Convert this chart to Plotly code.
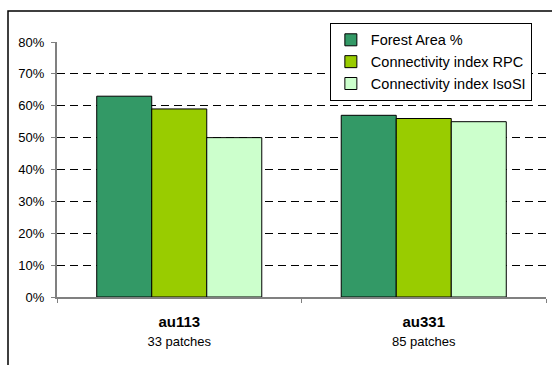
import plotly.graph_objects as go

categories = ["au113", "au331"]
sublabels = ["33 patches", "85 patches"]
forest_area = [0.63, 0.57]
rpc = [0.59, 0.56]
isosi = [0.50, 0.55]
series_names = ["Forest Area %", "Connectivity index RPC", "Connectivity index IsoSI"]
colors = ["#339966", "#99CC00", "#CCFFCC"]
ytick_vals = [0, 0.1, 0.2, 0.3, 0.4, 0.5, 0.6, 0.7, 0.8]
ytick_text = ["0%", "10%", "20%", "30%", "40%", "50%", "60%", "70%", "80%"]

FONT = "Liberation Sans, Arial, sans-serif"

fig = go.Figure()
for name, vals, col in zip(series_names, [forest_area, rpc, isosi], colors):
    fig.add_trace(go.Bar(
        x=categories, y=vals, name=name,
        marker=dict(color=col, line=dict(color="#000000", width=1)),
    ))

ticktext = [f"<b>{c}</b><br><span style='font-size:13px'>{s}</span>" for c, s in zip(categories, sublabels)]

fig.update_layout(
    width=552, height=365,
    margin=dict(l=57, r=6, t=42, b=68),
    paper_bgcolor="white", plot_bgcolor="white",
    barmode="group", bargap=0.325, bargroupgap=0,
    font=dict(family=FONT, color="#000000"),
    showlegend=True,
    legend=dict(
        x=0.558, y=1.075, xanchor="left", yanchor="top",
        bgcolor="white", bordercolor="#000000", borderwidth=1,
        font=dict(size=14.5, family=FONT, color="#000000"),
        tracegroupgap=0,
    ),
    xaxis=dict(
        type="category",
        tickvals=categories, ticktext=ticktext,
        tickfont=dict(size=15, family=FONT, color="#000000"),
        showline=True, linecolor="#808080", linewidth=1.5,
        ticks="outside", tickson="boundaries", ticklen=4, tickcolor="#808080",
        showgrid=False, zeroline=False,
        ticklabelstandoff=10,
    ),
    yaxis=dict(
        range=[0, 0.8],
        tickvals=ytick_vals, ticktext=ytick_text,
        tickfont=dict(size=13, family=FONT, color="#000000"),
        showline=True, linecolor="#808080", linewidth=2,
        ticks="outside", ticklen=4, tickcolor="#808080",
        showgrid=True, gridcolor="#000000", gridwidth=1, griddash="8px,5px",
        zeroline=False,
        ticklabelstandoff=4,
    ),
    shapes=[dict(
        type="rect", xref="paper", yref="paper",
        x0=-0.1002, x1=1.3, y0=-1.0, y1=1.1216,
        line=dict(color="#000000", width=1.5), fillcolor="rgba(0,0,0,0)", layer="below",
    )],
)

fig.write_html("out.html")
